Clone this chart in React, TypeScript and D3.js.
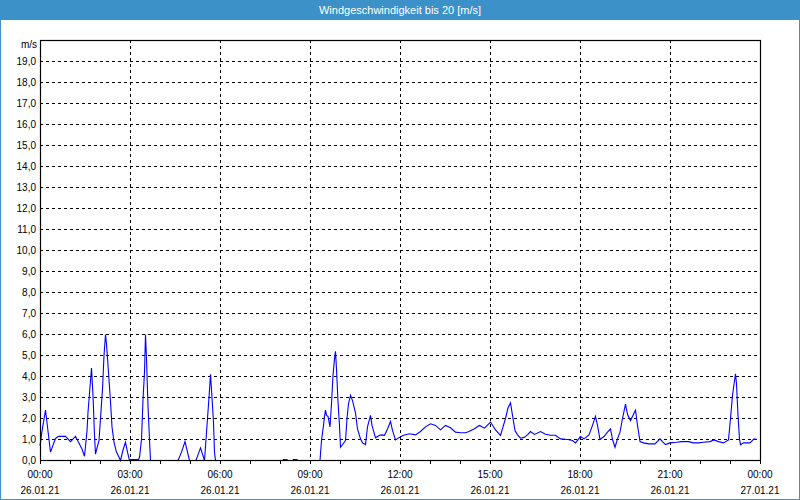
import React, { useEffect, useRef } from 'react';
import * as d3 from 'd3';

// minutes since 26.01.21 00:00 and wind speed in m/s
const minutes = [
  0, 4, 11, 14, 18, 21, 24, 31, 37, 51, 61, 71, 77, 84, 89, 94, 96, 99, 103, 106,
  109, 111, 114, 118, 121, 125, 128, 131, 133, 137, 141, 144, 148, 153, 158, 161, 166, 171, 175, 179,
  181, 197, 199, 203, 206, 209, 211, 213, 216, 219, 221, 276, 283, 290, 299, 312, 321, 329, 332, 335,
  338, 341, 344, 347, 349, 351, 486, 487, 494, 495, 506, 507, 514, 515, 560, 563, 567, 569, 571, 573,
  576, 580, 583, 586, 589, 591, 593, 596, 599, 601, 605, 611, 614, 617, 621, 625, 631, 635, 641, 645,
  651, 655, 661, 664, 671, 679, 684, 689, 695, 701, 705, 711, 719, 727, 739, 751, 761, 771, 781, 791,
  801, 811, 821, 831, 841, 851, 858, 868, 879, 889, 901, 911, 921, 931, 936, 941, 945, 950, 955, 961,
  968, 975, 981, 989, 1001, 1011, 1021, 1031, 1041, 1055, 1065, 1071, 1081, 1088, 1098, 1105, 1111, 1115, 1120, 1128,
  1135, 1141, 1145, 1150, 1155, 1160, 1165, 1171, 1175, 1181, 1187, 1191, 1195, 1200, 1207, 1217, 1230, 1240, 1245, 1251,
  1260, 1273, 1283, 1297, 1307, 1317, 1327, 1340, 1348, 1357, 1367, 1377, 1381, 1385, 1389, 1391, 1393, 1396, 1399, 1401,
  1407, 1420, 1428, 1434,
];
const speed = [
  0.7, 1.4, 2.4, 1.8, 1.0, 0.4, 0.6, 1.05, 1.15, 1.15, 0.9, 1.15, 0.87, 0.55, 0.2, 1.4, 2.3, 3.2, 4.4, 3.1,
  1.2, 0.3, 0.6, 0.95, 2.0, 3.4, 5.0, 6.0, 5.55, 4.2, 2.8, 1.6, 0.87, 0.4, 0.15, 0, 0.5, 0.87, 0.4, 0,
  0.05, 0.05, 0.15, 1.0, 2.9, 4.2, 6.0, 4.85, 2.6, 1.0, 0, 0, 0.4, 0.9, 0, 0, 0.6, 0, 1.0, 2.0,
  3.0, 4.1, 3.0, 1.8, 0.4, 0, 0, 0.05, 0.05, 0, 0, 0.05, 0.05, 0, 0, 0.95, 1.67, 2.1, 2.4, 2.15,
  2.1, 1.6, 2.7, 4.05, 4.85, 5.2, 4.35, 2.8, 1.67, 0.63, 0.75, 0.95, 2.0, 2.7, 3.1, 2.85, 2.27, 1.5, 1.03, 0.84,
  0.76, 1.6, 2.15, 1.67, 1.08, 1.2, 1.22, 1.2, 1.5, 1.86, 1.43, 0.98, 1.1, 1.2, 1.27, 1.22, 1.38, 1.6, 1.75, 1.67,
  1.46, 1.67, 1.56, 1.35, 1.32, 1.32, 1.38, 1.5, 1.67, 1.54, 1.83, 1.46, 1.2, 2.0, 2.5, 2.75, 2.15, 1.43, 1.22, 1.06,
  1.1, 1.22, 1.38, 1.24, 1.38, 1.25, 1.2, 1.2, 1.03, 1.0, 0.95, 0.84, 1.14, 1.03, 1.22, 1.67, 2.1, 1.67, 1.0, 1.14,
  1.35, 1.5, 1.0, 0.63, 1.03, 1.35, 2.0, 2.68, 2.2, 1.9, 2.2, 2.4, 1.67, 0.9, 0.84, 0.79, 0.79, 1.03, 0.9, 0.76,
  0.84, 0.87, 0.9, 0.9, 0.84, 0.84, 0.87, 0.9, 0.98, 0.9, 0.84, 0.98, 2.0, 3.1, 3.8, 4.13, 3.65, 2.15, 1.03, 0.75,
  0.84, 0.84, 1.03, 1.0,
];

const title = 'Windgeschwindigkeit bis 20 [m/s]';
const unit = 'm/s';
const timeLabels = ['00:00', '03:00', '06:00', '09:00', '12:00', '15:00', '18:00', '21:00', '00:00'];
const dateLabels = ['26.01.21', '26.01.21', '26.01.21', '26.01.21', '26.01.21', '26.01.21', '26.01.21', '26.01.21', '27.01.21'];
const yMax = 20;

const W = 800, H = 500;
const m = { left: 40, right: 40, top: 40, bottom: 40 };
const FONT = '"Liberation Sans", Arial, sans-serif';
const BLUE = '#3c91c9';

const App: React.FC = () => {
  const svgRef = useRef<SVGSVGElement>(null);

  useEffect(() => {
    document.body.style.margin = '0';
    if (!svgRef.current) return;
    const svg = d3.select(svgRef.current);
    svg.selectAll('*').remove();

    const x = d3.scaleLinear().domain([0, 1440]).range([m.left, W - m.right]);
    const y = d3.scaleLinear().domain([0, yMax]).range([H - m.bottom, m.top]);

    svg.append('rect').attr('width', W).attr('height', H).attr('fill', '#fff');
    svg.append('rect').attr('width', W).attr('height', 20).attr('fill', BLUE);
    svg.append('rect').attr('x', 0.5).attr('y', 0.5).attr('width', W - 1).attr('height', H - 1)
      .attr('fill', 'none').attr('stroke', BLUE);
    svg.append('text').attr('x', W / 2).attr('y', 14).attr('text-anchor', 'middle')
      .attr('fill', '#fff').style('font', `11px ${FONT}`).text(title);

    const g = svg.append('g');

    // horizontal grid
    const yVals = d3.range(1, yMax);
    g.selectAll('.hg').data(yVals).enter().append('line')
      .attr('x1', x(0)).attr('x2', x(1440))
      .attr('y1', d => Math.round(y(d)) + 0.5).attr('y2', d => Math.round(y(d)) + 0.5)
      .attr('stroke', '#000').attr('stroke-dasharray', '3,3');

    // vertical grid every 3h
    const vVals = d3.range(180, 1440, 180);
    g.selectAll('.vg').data(vVals).enter().append('line')
      .attr('y1', y(yMax)).attr('y2', y(0))
      .attr('x1', d => Math.round(x(d)) + 0.5).attr('x2', d => Math.round(x(d)) + 0.5)
      .attr('stroke', '#000').attr('stroke-dasharray', '3,3');

    // data line (half-pixel offset so zero values sit under the frame)
    const pts = minutes.map((t, i) => [t, speed[i]] as [number, number]);
    g.append('path').datum(pts)
      .attr('d', d3.line<[number, number]>().x(d => x(d[0])).y(d => y(d[1]) + 0.5))
      .attr('fill', 'none').attr('stroke', '#0000ff').attr('stroke-width', 1.1);

    // frame
    g.append('rect')
      .attr('x', x(0) + 0.5).attr('y', y(yMax) + 0.5)
      .attr('width', x(1440) - x(0)).attr('height', y(0) - y(yMax))
      .attr('fill', 'none').attr('stroke', '#000').attr('stroke-width', 1.2);

    // hourly ticks
    g.selectAll('.tk').data(d3.range(0, 1441, 60)).enter().append('line')
      .attr('x1', d => Math.round(x(d)) + 0.5).attr('x2', d => Math.round(x(d)) + 0.5)
      .attr('y1', y(0)).attr('y2', y(0) + 4).attr('stroke', '#000');

    // y labels
    const fmt = d3.format('.1f');
    g.selectAll('.yl').data(d3.range(0, yMax)).enter().append('text')
      .attr('x', m.left - 4).attr('y', d => y(d) + 4).attr('text-anchor', 'end')
      .style('font', `10px ${FONT}`).attr('fill', '#000')
      .text(d => fmt(d).replace('.', ','));
    g.append('text').attr('x', m.left - 3).attr('y', y(yMax) + 8).attr('text-anchor', 'end')
      .style('font', `10px ${FONT}`).attr('fill', '#000').text(unit);

    // x labels
    const xt = d3.range(0, 1441, 180);
    g.selectAll('.xl').data(xt).enter().append('text')
      .attr('x', d => x(d)).attr('y', H - m.bottom + 18).attr('text-anchor', 'middle')
      .style('font', `10px ${FONT}`).attr('fill', '#000')
      .text((d, i) => timeLabels[i]);
    g.selectAll('.dl').data(xt).enter().append('text')
      .attr('x', d => x(d)).attr('y', H - m.bottom + 34).attr('text-anchor', 'middle')
      .style('font', `10px ${FONT}`).attr('fill', '#000')
      .text((d, i) => dateLabels[i]);
  }, []);

  return <svg ref={svgRef} width={W} height={H} style={{ display: 'block' }} />;
};

export default App;
